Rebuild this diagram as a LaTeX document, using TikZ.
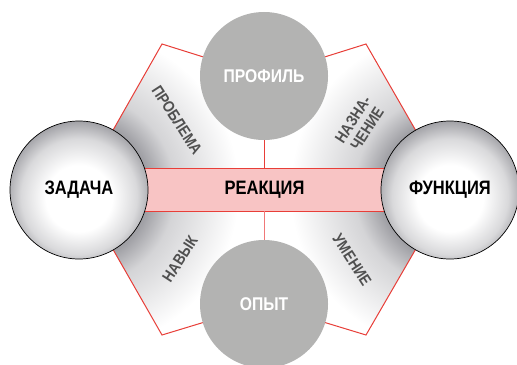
\documentclass[tikz,border=0pt]{standalone}
\usepackage{fontspec}
\newfontfamily\cond[FakeStretch=0.85]{Liberation Sans}
\definecolor{hexred}{RGB}{232,62,56}
\definecolor{barpink}{RGB}{248,196,196}
\definecolor{linepink}{RGB}{240,120,120}
\definecolor{discgray}{RGB}{179,179,178}
\definecolor{ballgray}{RGB}{160,160,165}
\definecolor{panelgray}{RGB}{160,160,165}
\definecolor{labelgray}{RGB}{80,80,80}
\pgfdeclareradialshading{ball}{\pgfpoint{0bp}{-4bp}}{color(0bp)=(white); color(12bp)=(white); color(21bp)=(ballgray!40!white); color(27bp)=(ballgray); color(50bp)=(ballgray)}
\pgfdeclareradialshading{panel}{\pgfpoint{0bp}{0bp}}{color(0bp)=(panelgray); color(11bp)=(panelgray); color(15bp)=(panelgray!45!white); color(25bp)=(white); color(50bp)=(white)}
\tikzset{
  side/.style={circle, draw=black, line width=0.7bp, minimum size=138bp, inner sep=0pt, shade, shading=ball, font=\cond\bfseries\fontsize{19.5}{20}\selectfont},
  disc/.style={circle, fill=discgray, minimum size=128bp, inner sep=0pt, text=white, font=\cond\bfseries\fontsize{18.5}{19}\selectfont},
  bar/.style={fill=barpink, minimum width=371bp, minimum height=42bp, inner sep=0pt, font=\cond\bfseries\fontsize{19.5}{20}\selectfont},
  lab/.style={text=labelgray, font=\cond\bfseries\fontsize{16}{17}\selectfont, align=center, inner sep=0pt},
}
\begin{document}
\begin{tikzpicture}[x=1bp,y=1bp]
\useasboundingbox (0,0) rectangle (517,364);
\clip (0,0) rectangle (517,364);
\coordinate (hL) at (79,174);
\coordinate (hTL) at (162,320);
\coordinate (hT) at (264,288);
\coordinate (hTR) at (366,320);
\coordinate (hR) at (450,174);
\coordinate (hBR) at (366,29);
\coordinate (hB) at (264,60);
\coordinate (hBL) at (162,29);
% panel
\begin{scope}
\clip (hL)--(hTL)--(hT)--(hTR)--(hR)--(hBR)--(hB)--(hBL)--cycle;
\fill[white] (0,0) rectangle (517,364);
\shade[shading=panel] (hL) circle (160);
\shade[shading=panel] (hR) circle (160);
\end{scope}
\draw[hexred, line width=1bp] (hL)--(hTL)--(hT)--(hTR)--(hR)--(hBR)--(hB)--(hBL)--cycle;
% bar
\node[bar] (bar) at (264.5,174) {РЕАКЦИЯ};
\draw[hexred, line width=1bp] (bar.north west) -- (bar.north east);
\draw[hexred, line width=1bp] (bar.south west) -- (bar.south east);
% discs
\node[disc] (top) at (hT) {ПРОФИЛЬ};
\node[disc] (bot) at (hB) {ОПЫТ};
\draw[hexred, line width=1bp] (top.south) -- (bar.north -| top.south);
\draw[linepink, line width=1bp] (bar.south -| bot.north) -- (bot.north);
% side balls
\node[side] (zad) at (hL) {ЗАДАЧА};
\node[side] (fun) at (hR) {ФУНКЦИЯ};
% labels
\node[lab, rotate=-57] (l1) at (177,244) {ПРОБЛЕМА};
\node[lab, rotate=57] (l2) at (360,240) {НАЗНА-\\ЧЕНИЕ};
\node[lab, rotate=57] (l3) at (180,105) {НАВЫК};
\node[lab, rotate=-57] (l4) at (352,104) {УМЕНИЕ};
\end{tikzpicture}
\end{document}
